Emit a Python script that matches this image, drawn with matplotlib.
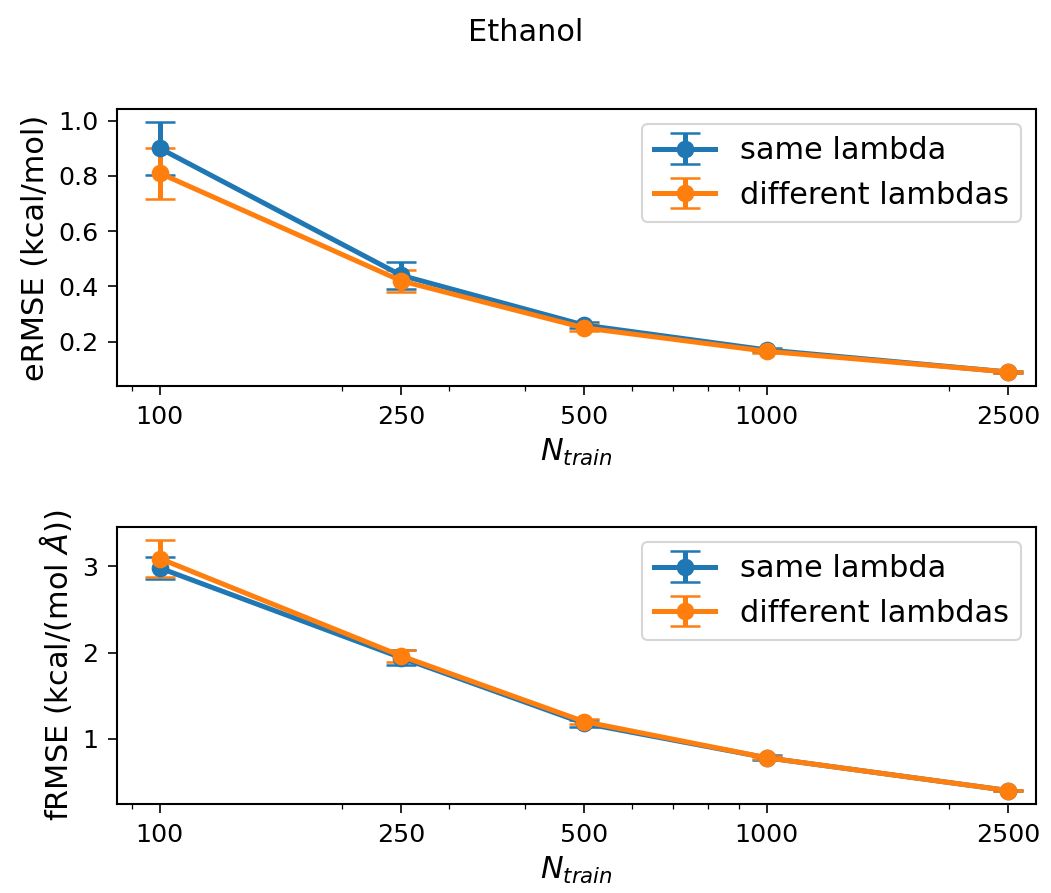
import numpy as np
import matplotlib
matplotlib.use("Agg")
import matplotlib.pyplot as plt
from matplotlib.ticker import MultipleLocator

n_train = [100, 250, 500, 1000, 2500]
tick_labels = ["100", "250", "500", "1000", "2500"]

# energy errors (kcal/mol)
e_same = [0.90, 0.44, 0.26, 0.17, 0.09]
e_same_err = [0.097, 0.05, 0.012, 0.008, 0.005]
e_diff = [0.81, 0.42, 0.25, 0.165, 0.09]
e_diff_err = [0.092, 0.04, 0.012, 0.008, 0.005]

# force errors (kcal/(mol A))
f_same = [2.98, 1.94, 1.18, 0.78, 0.40]
f_same_err = [0.13, 0.09, 0.04, 0.03, 0.01]
f_diff = [3.09, 1.96, 1.20, 0.78, 0.40]
f_diff_err = [0.22, 0.07, 0.03, 0.02, 0.01]

plt.rcParams.update({
    "font.size": 12.2,
    "axes.labelsize": 14.6,
    "legend.fontsize": 14.6,
    "axes.linewidth": 1.0,
    "xtick.major.size": 4.5,
    "ytick.major.size": 4.5,
    "xtick.minor.size": 2.5,
    "xtick.major.pad": 4.5,
    "ytick.major.pad": 4.5,
})

fig, axes = plt.subplots(2, 1, figsize=(1051 / 150, 893 / 150), dpi=150)
fig.subplots_adjust(left=0.1113, right=0.9857, top=0.878, bottom=0.0997, hspace=0.509)
fig.suptitle("Ethanol", fontsize=14.6, y=0.98)

panels = [
    (axes[0], e_same, e_same_err, e_diff, e_diff_err, "eRMSE (kcal/mol)", 0.2),
    (axes[1], f_same, f_same_err, f_diff, f_diff_err, r"fRMSE (kcal/(mol $\AA$))", 1),
]
for ax, ys, ys_err, yd, yd_err, ylab, ystep in panels:
    ax.errorbar(n_train, ys, yerr=ys_err, marker="o", markersize=7.5, linewidth=2.4,
                capsize=7, capthick=1.2, label="same lambda")
    ax.errorbar(n_train, yd, yerr=yd_err, marker="o", markersize=7.5, linewidth=2.4,
                capsize=7, capthick=1.2, label="different lambdas")
    ax.set_xscale("log")
    ax.set_xticks(n_train)
    ax.set_xticklabels(tick_labels)
    ax.set_xlim(85, 2780)
    ax.yaxis.set_major_locator(MultipleLocator(ystep))
    ax.set_xlabel(r"$N_{train}$")
    ax.set_ylabel(ylab)
    ax.legend(loc="upper right")

fig.savefig("out.png", dpi=150)
